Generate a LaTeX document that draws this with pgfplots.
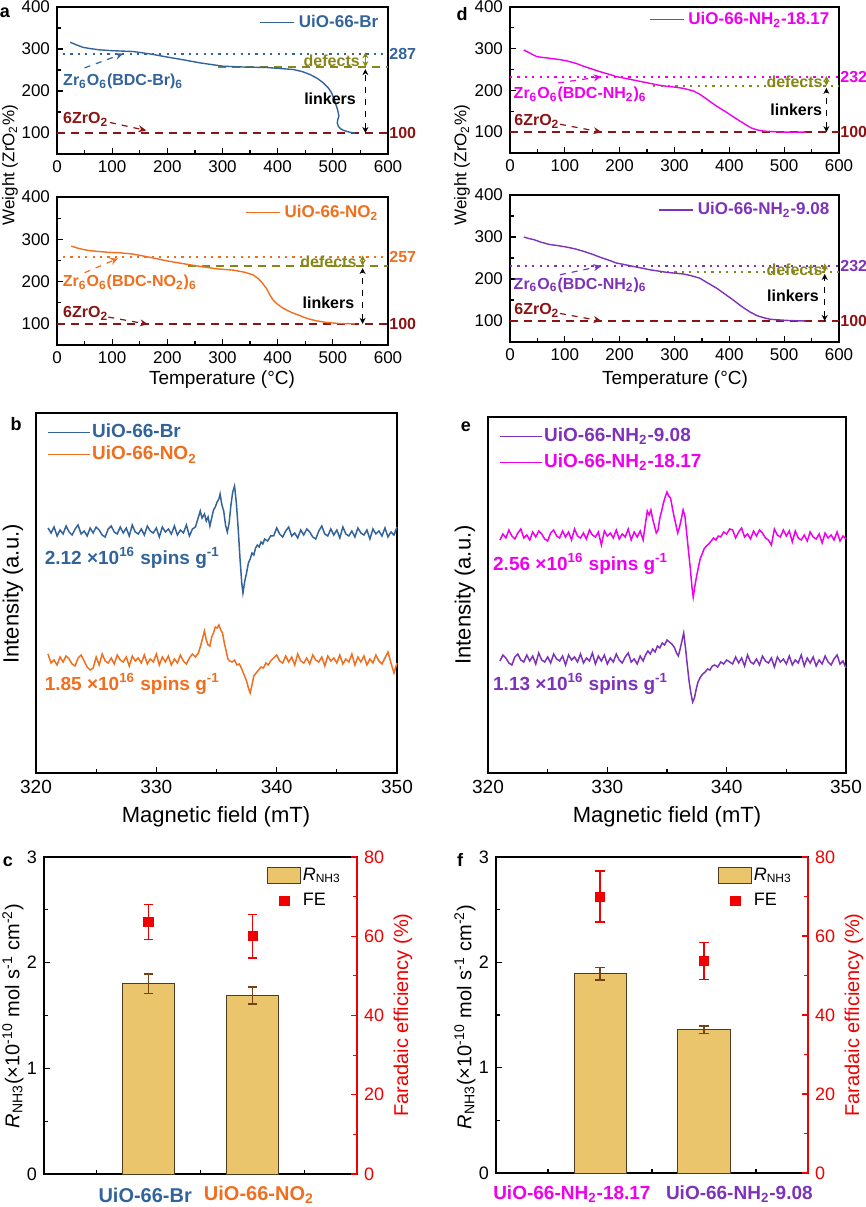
\documentclass[border=0pt]{standalone}
\usepackage{fontspec}
\setmainfont{Liberation Sans}
\usepackage{pgfplots}
\pgfplotsset{compat=1.18}
\usetikzlibrary{arrows.meta}
\definecolor{brblue}{RGB}{50,100,155}
\definecolor{orng}{RGB}{240,110,30}
\definecolor{mag}{RGB}{238,0,238}
\definecolor{purp}{RGB}{125,50,185}
\definecolor{dred}{RGB}{140,20,20}
\definecolor{olv}{RGB}{135,135,25}
\definecolor{barcol}{RGB}{235,197,107}
\definecolor{barline}{RGB}{80,60,30}
\definecolor{errbr}{RGB}{120,65,20}
\definecolor{fered}{RGB}{240,0,0}
\tikzset{
 ann/.style={font=\bfseries\fontsize{8}{9.6}\selectfont, inner sep=0.5pt},
 spin/.style={anchor=west, font=\bfseries\fontsize{9.5}{11}\selectfont, inner sep=0pt},
 xlab/.style={font=\bfseries\fontsize{10}{12}\selectfont, inner sep=0pt, yshift=-10.5pt},
}
\pgfplotsset{
 every axis/.append style={/pgf/number format/assume math mode=true},
 tga/.style={anchor=south west, scale only axis, xmin=0,xmax=600,ymin=50,ymax=400,
  xtick={0,100,...,600}, minor xtick={50,150,...,550}, ytick={100,200,300,400}, minor ytick={150,250,350},
  tick align=inside, xtick pos=bottom, ytick pos=left, major tick length=3pt, minor tick length=1.8pt,
  tick label style={font=\fontsize{8.5}{10}\selectfont}, axis line style={line width=0.7pt},
  every tick/.style={black, line width=0.6pt}, clip=false,
  legend style={draw=none, fill=none, font=\bfseries\fontsize{8.5}{10}\selectfont, anchor=east, inner sep=1pt},
  legend cell align=left, legend image code/.code={\draw[#1] (0pt,0pt) -- (17pt,0pt);}},
 href/.style={line width=0.8pt, forget plot},
 hdot/.style={line width=1pt, dash pattern=on 1.1pt off 2.6pt, forget plot},
 epr/.style={anchor=south west, scale only axis, xmin=320,xmax=350, ymin=0,
  xtick={320,330,340,350}, minor xtick={325,335,345}, ytick=\empty, xtick pos=bottom, tick align=inside,
  tick label style={font=\fontsize{9.5}{11}\selectfont}, axis line style={line width=0.7pt},
  every tick/.style={black, line width=0.6pt}, major tick length=3pt, minor tick length=2pt,
  legend style={draw=none, fill=none, font=\bfseries\fontsize{9.5}{11}\selectfont, at={(0.015,0.985)}, anchor=north west, nodes={inner sep=0.6pt}},
  legend cell align=left, legend image code/.code={\draw[#1, line width=0.6pt] (0pt,0pt) -- (21pt,0pt);}, clip=false},
 barax/.style={anchor=south west, scale only axis, xmin=0, xmax=3, ymin=0, ymax=3,
  ytick={0,1,2,3}, minor ytick={0.5,1.5,2.5}, xtick={1,2}, xticklabels={{},{}}, minor xtick={0.5,1.5,2.5},
  xtick pos=bottom, ytick pos=left, tick align=inside, major x tick style={draw=none},
  tick label style={font=\fontsize{9}{11}\selectfont}, clip=false,
  axis line style={line width=0.7pt}, every tick/.style={black, line width=0.6pt}, major tick length=3pt, minor tick length=2pt},
 feax/.style={anchor=south west, scale only axis, xmin=0, xmax=3, ymin=0, ymax=80,
  axis y line*=right, axis x line=none, ytick={0,20,40,60,80}, minor ytick={10,30,50,70}, tick align=inside,
  y axis line style={fered, line width=0.8pt}, every tick/.style={fered, line width=0.6pt}, major tick length=3pt, minor tick length=2pt,
  yticklabel style={fered, font=\fontsize{9}{11}\selectfont},
  legend style={draw=none, fill=none, at={(0.975,0.985)}, anchor=north east, font=\fontsize{9}{11}\selectfont, row sep=3pt, nodes={inner sep=1pt}},
  legend cell align=left},
}
\begin{document}
\begin{tikzpicture}
\path[use as bounding box] (0pt,0pt) rectangle (433pt,603.5pt);
% ---------------- panel a top
\begin{axis}[tga, at={(28.5pt,526.5pt)}, width=165.5pt, height=73.5pt, legend style={at={(0.99,0.894)}}]
\addplot[href, dred, dash pattern=on 4pt off 3pt] coordinates {(0,100)(600,100)};
\addplot[hdot, brblue] coordinates {(11,287)(600,287)};
\addplot[href, olv, dash pattern=on 4pt off 3pt] coordinates {(292,257)(600,257)};
\addplot[brblue, line width=0.7pt] coordinates {(24,316)(35,310)(47,304)(60,301)(77,298)(100,296)(138,294)(170,288)(199,281)(230,274)(259,267)(280,263)(301,259)(340,257)(380,256)(410,253)(429,251)(445,246)(459,239)(472,230)(483,219)(492,207)(498,195)(502,182)(505,170)(508,158)(510,148)(511,140)(509,132)(508,124)(510,116)(514,110)(520,106)(530,102)(540,100)};
\addlegendentry[text=brblue]{UiO-66-Br}
\node[ann, text=brblue, anchor=west] at (axis cs:600,287) {287};
\node[ann, text=dred, anchor=west] at (axis cs:600,100) {100};
\draw[olv, line width=0.6pt, {Stealth[length=3pt,width=3pt]}-{Stealth[length=3pt,width=3pt]}] (axis cs:559,257) -- (axis cs:559,292);
\draw[black, dashed, line width=0.6pt, {Stealth[length=3pt,width=3pt]}-{Stealth[length=3pt,width=3pt]}] (axis cs:559,100) -- (axis cs:559,252);
\node[ann, text=olv] at (axis cs:498,271) {defects};
\node[ann] at (axis cs:495,182) {linkers};
\node[ann, text=brblue] at (axis cs:120,223) {Zr\textsubscript{6}O\textsubscript{6}(BDC-Br)\textsubscript{6}};
\draw[brblue, dashed, line width=0.6pt, -{Stealth[length=4pt,width=3.5pt]}] (axis cs:50,255) -- (axis cs:120,289);
\node[ann, text=dred] at (axis cs:52,132) {6ZrO\textsubscript{2}};
\draw[dred, dashed, line width=0.6pt, -{Stealth[length=4pt,width=3.5pt]}] (axis cs:96,125) -- (axis cs:162,106);
\end{axis}
% ---------------- panel a bottom
\begin{axis}[tga, at={(28.5pt,431pt)}, width=165.5pt, height=74pt, legend style={at={(0.99,0.894)}}]
\addplot[href, dred, dash pattern=on 4pt off 3pt] coordinates {(0,100)(600,100)};
\addplot[hdot, orng] coordinates {(11,257)(600,257)};
\addplot[href, olv, dash pattern=on 4pt off 3pt] coordinates {(238,237)(600,237)};
\addplot[orng, line width=0.7pt] coordinates {(26,284)(35,280)(47,276)(60,273)(77,271)(95,269)(114,268)(138,265)(170,257)(199,249)(230,242)(259,236)(290,230)(320,227)(340,222)(355,216)(365,207)(372,197)(380,183)(386,168)(392,156)(400,146)(410,137)(425,127)(441,119)(455,112)(471,107)(490,103)(510,101)(540,100)};
\addlegendentry[text=orng]{UiO-66-NO\textsubscript{2}}
\node[ann, text=orng, anchor=west] at (axis cs:600,257) {257};
\node[ann, text=dred, anchor=west] at (axis cs:600,100) {100};
\draw[olv, line width=0.6pt, {Stealth[length=3pt,width=3pt]}-{Stealth[length=3pt,width=3pt]}] (axis cs:554,237) -- (axis cs:554,262);
\draw[black, dashed, line width=0.6pt, {Stealth[length=3pt,width=3pt]}-{Stealth[length=3pt,width=3pt]}] (axis cs:554,100) -- (axis cs:554,232);
\node[ann, text=olv] at (axis cs:492,246) {defects};
\node[ann] at (axis cs:492,150) {linkers};
\node[ann, text=orng] at (axis cs:132,198) {Zr\textsubscript{6}O\textsubscript{6}(BDC-NO\textsubscript{2})\textsubscript{6}};
\draw[orng, dashed, line width=0.6pt, -{Stealth[length=4pt,width=3.5pt]}] (axis cs:50,221) -- (axis cs:111,255);
\node[ann, text=dred] at (axis cs:52,124) {6ZrO\textsubscript{2}};
\draw[dred, dashed, line width=0.6pt, -{Stealth[length=4pt,width=3.5pt]}] (axis cs:93,116) -- (axis cs:165,99);
\end{axis}
% ---------------- panel d top
\begin{axis}[tga, at={(255pt,527pt)}, width=164.5pt, height=73pt, legend style={at={(0.99,0.914)}}]
\addplot[href, dred, dash pattern=on 4pt off 3pt] coordinates {(0,100)(600,100)};
\addplot[hdot, mag] coordinates {(0,232)(600,232)};
\addplot[hdot, olv] coordinates {(261,211)(600,211)};
\addplot[mag, line width=0.7pt] coordinates {(25,297)(37,289)(49,281)(60,279)(73,277)(90,274)(103,271)(120,265)(134,258)(150,251)(164,245)(180,239)(194,233)(210,229)(225,225)(240,221)(255,217)(270,213)(285,210)(300,208)(316,205)(334,199)(346,191)(360,178)(377,162)(392,150)(407,137)(420,126)(431,117)(440,110)(449,106)(460,103)(468,102)(498,100)(540,100)};
\addlegendentry[text=mag]{UiO-66-NH\textsubscript{2}-18.17}
\node[ann, text=mag, anchor=west] at (axis cs:600,232) {232};
\node[ann, text=dred, anchor=west] at (axis cs:600,100) {100};
\draw[olv, line width=0.6pt, {Stealth[length=3pt,width=3pt]}-{Stealth[length=3pt,width=3pt]}] (axis cs:577,211) -- (axis cs:577,235);
\draw[black, dashed, line width=0.6pt, {Stealth[length=3pt,width=3pt]}-{Stealth[length=3pt,width=3pt]}] (axis cs:577,100) -- (axis cs:577,206);
\node[ann, text=olv] at (axis cs:519,220) {defects};
\node[ann] at (axis cs:522,154) {linkers};
\node[ann, text=mag] at (axis cs:128,191) {Zr\textsubscript{6}O\textsubscript{6}(BDC-NH\textsubscript{2})\textsubscript{6}};
\draw[mag, dashed, line width=0.6pt, -{Stealth[length=4pt,width=3.5pt]}] (axis cs:88,218) -- (axis cs:167,233);
\node[ann, text=dred] at (axis cs:49,125) {6ZrO\textsubscript{2}};
\draw[dred, dashed, line width=0.6pt, -{Stealth[length=4pt,width=3.5pt]}] (axis cs:91,119) -- (axis cs:167,100);
\end{axis}
% ---------------- panel d bottom
\begin{axis}[tga, at={(255pt,432.5pt)}, width=164.5pt, height=73.5pt, legend style={at={(0.99,0.897)}}]
\addplot[href, dred, dash pattern=on 4pt off 3pt] coordinates {(0,100)(600,100)};
\addplot[hdot, purp] coordinates {(0,232)(600,232)};
\addplot[hdot, olv] coordinates {(273,216)(600,216)};
\addplot[purp, line width=0.7pt] coordinates {(25,300)(35,296)(43,294)(58,287)(73,282)(90,279)(103,276)(118,272)(134,266)(150,259)(164,252)(180,245)(194,238)(210,234)(225,230)(240,226)(255,222)(270,219)(285,216)(300,214)(316,212)(330,208)(346,202)(360,191)(377,178)(392,164)(407,150)(422,135)(437,122)(450,113)(462,108)(475,104)(486,103)(510,101)(540,100)};
\addlegendentry[text=purp]{UiO-66-NH\textsubscript{2}-9.08}
\node[ann, text=purp, anchor=west] at (axis cs:600,232) {232};
\node[ann, text=dred, anchor=west] at (axis cs:600,100) {100};
\draw[olv, line width=0.6pt, {Stealth[length=3pt,width=3pt]}-{Stealth[length=3pt,width=3pt]}] (axis cs:574,216) -- (axis cs:574,237);
\draw[black, dashed, line width=0.6pt, {Stealth[length=3pt,width=3pt]}-{Stealth[length=3pt,width=3pt]}] (axis cs:574,100) -- (axis cs:574,212);
\node[ann, text=olv] at (axis cs:519,223) {defects};
\node[ann] at (axis cs:516,160) {linkers};
\node[ann, text=purp] at (axis cs:128,186) {Zr\textsubscript{6}O\textsubscript{6}(BDC-NH\textsubscript{2})\textsubscript{6}};
\draw[purp, dashed, line width=0.6pt, -{Stealth[length=4pt,width=3.5pt]}] (axis cs:91,210) -- (axis cs:167,231);
\node[ann, text=dred] at (axis cs:49,126) {6ZrO\textsubscript{2}};
\draw[dred, dashed, line width=0.6pt, -{Stealth[length=4pt,width=3.5pt]}] (axis cs:91,118) -- (axis cs:167,100);
\end{axis}
% TGA labels
\node[rotate=90, font=\fontsize{8.5}{10}\selectfont] at (5pt,521pt) {Weight (ZrO\textsubscript{2}\%)};
\node[rotate=90, font=\fontsize{8.5}{10}\selectfont] at (231pt,521pt) {Weight (ZrO\textsubscript{2}\%)};
\node[font=\fontsize{9.5}{11}\selectfont] at (111pt,413.5pt) {Temperature (°C)};
\node[font=\fontsize{9.5}{11}\selectfont] at (337.5pt,413.5pt) {Temperature (°C)};
% ---------------- panel b
\begin{axis}[epr, at={(18pt,217pt)}, width=180.5pt, height=180pt, ymax=360, legend style={row sep=1.5pt}]
\addplot[brblue, line width=0.75pt] coordinates {
(321.00,245)(321.25,240)(321.5,246)(321.75,237)(322,243)(322.25,239)(322.5,247)(322.75,241)(323,238)(323.25,244)
(323.5,248)(323.75,239)(324,242)(324.25,237)(324.5,245)(324.75,240)(325,246)(325.25,243)(325.5,238)(325.75,236)
(326,244)(326.25,247)(326.5,241)(326.75,239)(327,246)(327.25,240)(327.5,245)(327.75,237)(328,248)(328.25,241)
(328.5,239)(328.75,244)(329,238)(329.25,247)(329.5,242)(329.75,240)(330,245)(330.25,236)(330.5,246)(330.75,241)
(331,244)(331.25,239)(331.5,247)(331.75,238)(332,243)(332.25,240)(332.5,248)(332.75,237)(333,244)(333.25,246)
(333.5,256)(333.65,262)(333.8,255)(334.0,259)(334.15,252)(334.3,256)(334.45,247)(334.6,255)(334.75,263)(334.9,266)
(335.05,271)(335.2,274)(335.3,279)(335.45,268)(335.6,262)(335.75,248)(335.9,241)(336.05,250)(336.2,268)(336.35,281)
(336.5,287)(336.65,270)(336.8,245)(336.95,215)(337.1,190)(337.2,180)(337.35,192)(337.5,200)(337.65,210)(337.8,214)
(337.95,220)(338.1,218)(338.25,225)(338.4,228)(338.55,226)(338.7,231)(338.85,229)(339.0,234)(339.25,232)(339.5,237)
(339.75,237)(340,245)(340.25,239)(340.5,236)(340.75,242)(341,246)(341.25,237)(341.5,240)(341.75,235)(342,243)
(342.25,238)(342.5,244)(342.75,241)(343,236)(343.25,234)(343.5,242)(343.75,247)(344,239)(344.25,237)(344.5,244)
(344.75,238)(345,243)(345.25,235)(345.5,246)(345.75,239)(346,237)(346.25,242)(346.5,236)(346.75,245)(347,240)
(347.25,238)(347.5,243)(347.75,234)(348,244)(348.25,239)(348.5,242)(348.75,237)(349,245)(349.25,236)(349.5,241)
(349.75,238)(350,246)};
\addlegendentry[text=brblue]{UiO-66-Br}
\addplot[orng, line width=0.75pt] coordinates {
(321,119)(321.25,110)(321.5,113)(321.75,108)(322,116)(322.25,111)(322.5,117)(322.75,114)(323,109)(323.25,107)
(323.5,115)(323.75,118)(324,112)(324.25,106)(324.5,103)(324.75,105)(325,116)(325.25,108)(325.5,119)(325.75,112)
(326,110)(326.25,115)(326.5,109)(326.75,118)(327,113)(327.25,111)(327.5,116)(327.75,107)(328,117)(328.25,112)
(328.5,115)(328.75,110)(329,118)(329.25,109)(329.5,114)(329.75,111)(330,119)(330.25,108)(330.5,116)(330.75,111)
(331,117)(331.25,108)(331.5,114)(331.75,110)(332,118)(332.25,112)(332.5,109)(332.75,115)(333,119)(333.25,116)
(333.5,120)(333.7,128)(333.85,135)(334.0,142)(334.15,133)(334.3,128)(334.45,127)(334.6,136)(334.75,140)(334.9,146)
(335.05,145)(335.2,148)(335.35,143)(335.5,140)(335.65,130)(335.8,122)(335.95,114)(336.1,112)(336.3,111)(336.5,113)
(336.7,108)(336.9,109)(337.1,104)(337.3,98)(337.5,92)(337.65,85)(337.8,80)(337.95,88)(338.1,97)(338.3,100)
(338.5,103)(338.7,106)(338.9,105)(339.1,110)(339.3,108)(339.5,112)
(339.75,115)(340,118)(340.25,112)(340.5,110)(340.75,117)(341,111)(341.25,116)(341.5,108)(341.75,119)(342,112)
(342.25,110)(342.5,115)(342.75,109)(343,118)(343.25,113)(343.5,111)(343.75,116)(344,107)(344.25,117)(344.5,112)
(344.75,115)(345,110)(345.25,118)(345.5,109)(345.75,114)(346,111)(346.25,119)(346.5,108)(346.75,116)(347,111)
(347.25,117)(347.5,108)(347.75,114)(348,110)(348.25,118)(348.5,112)(348.75,109)(349,115)(349.25,121)(349.5,110)
(349.75,100)(350,110)};
\addlegendentry[text=orng]{UiO-66-NO\textsubscript{2}}
\node[spin, text=brblue] at (axis cs:320.7,215) {2.12 ×10\textsuperscript{16} spins g\textsuperscript{-1}};
\node[spin, text=orng] at (axis cs:320.7,89) {1.85 ×10\textsuperscript{16} spins g\textsuperscript{-1}};
\end{axis}
% ---------------- panel e
\begin{axis}[epr, at={(244pt,217pt)}, width=179pt, height=178pt, ymax=356, legend style={row sep=3.5pt}]
\addplot[purp, line width=0.75pt] coordinates {
(321,112)(321.25,118)(321.5,115)(321.75,110)(322,108)(322.25,116)(322.5,119)(322.75,113)(323,111)(323.25,118)
(323.5,112)(323.75,117)(324,109)(324.25,120)(324.5,113)(324.75,111)(325,116)(325.25,110)(325.5,119)(325.75,114)
(326,112)(326.25,117)(326.5,108)(326.75,118)(327,113)(327.25,116)(327.5,111)(327.75,119)(328,110)(328.25,115)
(328.5,112)(328.75,120)(329,109)(329.25,117)(329.5,112)(329.75,118)(330,109)(330.25,115)(330.5,111)(330.75,119)
(331,113)(331.25,110)(331.5,116)(331.75,120)(332,111)(332.25,114)(332.5,109)(332.75,117)(333,112)
(333.2,118)(333.4,122)(333.6,119)(333.8,124)(334.0,121)(334.2,127)(334.4,125)(334.6,130)(334.8,128)(335.0,133)
(335.2,131)(335.4,129)(335.6,126)(335.8,120)(335.95,117)(336.1,124)(336.25,132)(336.4,140)(336.55,125)(336.7,108)
(336.85,92)(337.0,80)(337.15,71)(337.3,75)(337.45,84)(337.6,91)(337.8,96)(338.0,99)(338.2,101)(338.4,104)
(338.6,103)(338.8,107)(339.0,108)(339.25,106)(339.5,111)(339.75,109)(340,113)
(340.25,111)(340.5,109)(340.75,116)(341,110)(341.25,115)(341.5,107)(341.75,118)(342,111)(342.25,109)(342.5,114)
(342.75,108)(343,117)(343.25,112)(343.5,110)(343.75,115)(344,106)(344.25,116)(344.5,111)(344.75,114)(345,109)
(345.25,117)(345.5,108)(345.75,113)(346,110)(346.25,118)(346.5,107)(346.75,115)(347,110)(347.25,116)(347.5,107)
(347.75,113)(348,109)(348.25,117)(348.5,111)(348.75,108)(349,114)(349.25,118)(349.5,109)(349.75,112)(350,105)};
\addlegendentry[text=purp]{UiO-66-NH\textsubscript{2}-9.08}
\addplot[mag, line width=0.75pt] coordinates {
(321,233)(321.25,239)(321.5,235)(321.75,243)(322,237)(322.25,234)(322.5,240)(322.75,244)(323,235)(323.25,238)
(323.5,233)(323.75,241)(324,236)(324.25,242)(324.5,239)(324.75,234)(325,232)(325.25,240)(325.5,243)(325.75,237)
(326,235)(326.25,242)(326.5,236)(326.75,241)(327,233)(327.25,244)(327.5,237)(327.75,235)(328,240)(328.25,234)
(328.5,243)(328.75,238)(329,236)(329.25,241)(329.5,228)(329.75,242)(330,237)(330.25,240)(330.5,235)(330.75,243)
(331,234)(331.25,239)(331.5,236)(331.75,244)(332,233)(332.25,241)(332.5,236)(332.75,242)(333,233)
(333.2,250)(333.35,262)(333.5,258)(333.65,263)(333.8,254)(333.95,247)(334.1,240)(334.25,243)(334.4,255)(334.55,262)
(334.7,270)(334.85,276)(335.0,281)(335.15,277)(335.3,275)(335.45,265)(335.6,256)(335.75,248)(335.9,240)(336.05,246)
(336.2,254)(336.35,263)(336.5,257)(336.65,240)(336.8,222)(336.95,205)(337.1,185)(337.2,176)(337.35,188)(337.5,198)
(337.65,207)(337.8,215)(337.95,219)(338.1,224)(338.3,227)(338.5,229)(338.7,232)(338.9,235)(339.1,233)(339.3,237)
(339.5,236)(339.75,241)(340,239)(340.25,244)(340.5,243)
(340.75,235)(341,241)(341.25,245)(341.5,236)(341.75,239)(342,234)(342.25,242)(342.5,237)(342.75,243)(343,240)
(343.25,235)(343.5,233)(343.75,228)(344,244)(344.25,238)(344.5,236)(344.75,243)(345,237)(345.25,242)(345.5,231)
(345.75,242)(346,235)(346.25,233)(346.5,238)(346.75,232)(347,241)(347.25,236)(347.5,234)(347.75,239)(348,230)
(348.25,240)(348.5,235)(348.75,238)(349,233)(349.25,241)(349.5,232)(349.75,237)(350,234)};
\addlegendentry[text=mag]{UiO-66-NH\textsubscript{2}-18.17}
\node[spin, text=mag] at (axis cs:320.4,209) {2.56 ×10\textsuperscript{16} spins g\textsuperscript{-1}};
\node[spin, text=purp] at (axis cs:320.4,89) {1.13 ×10\textsuperscript{16} spins g\textsuperscript{-1}};
\end{axis}
\node[rotate=90, font=\fontsize{11}{13}\selectfont] at (6.5pt,306.5pt) {Intensity (a.u.)};
\node[rotate=90, font=\fontsize{11}{13}\selectfont] at (232.5pt,306pt) {Intensity (a.u.)};
\node[font=\fontsize{11}{13}\selectfont] at (108pt,195pt) {Magnetic field (mT)};
\node[font=\fontsize{11}{13}\selectfont] at (333.5pt,195pt) {Magnetic field (mT)};
% ---------------- panel c
\begin{axis}[barax, at={(22pt,16.5pt)}, width=156.5pt, height=158.5pt]
\addplot[ybar, bar width=26pt, bar shift=0pt, fill=barcol, draw=barline, line width=0.5pt,
  error bars/.cd, y dir=both, y explicit, error bar style={color=errbr, line width=0.8pt},
  error mark options={rotate=90, color=errbr, mark size=2.3pt, line width=0.8pt}]
  coordinates {(1,1.80) +- (0,0.09) (2,1.69) +- (0,0.08)};
\node[xlab, text=brblue] at (axis cs:0.97,0) {UiO-66-Br};
\node[xlab, text=orng] at (axis cs:2.06,0) {UiO-66-NO\textsubscript{2}};
\end{axis}
\begin{axis}[feax, at={(22pt,16.5pt)}, width=156.5pt, height=158.5pt]
\addlegendimage{legend image code/.code={\draw[fill=barcol, draw=barline, line width=0.5pt] (0pt,-4pt) rectangle (16.5pt,4pt);}}
\addlegendentry{\textit{R}\textsubscript{NH3}}
\addplot[only marks, mark=square*, mark size=2.3pt, color=fered,
  error bars/.cd, y dir=both, y explicit, error bar style={color=fered, line width=0.8pt},
  error mark options={rotate=90, color=fered, mark size=2.3pt, line width=0.8pt}]
  coordinates {(1,63.6) +- (0,4.4) (2,60.0) +- (0,5.5)};
\addlegendentry{FE}
\end{axis}
% ---------------- panel f
\begin{axis}[barax, at={(248pt,17pt)}, width=156pt, height=158pt]
\addplot[ybar, bar width=26pt, bar shift=0pt, fill=barcol, draw=barline, line width=0.5pt,
  error bars/.cd, y dir=both, y explicit, error bar style={color=errbr, line width=0.8pt},
  error mark options={rotate=90, color=errbr, mark size=2.3pt, line width=0.8pt}]
  coordinates {(1,1.89) +- (0,0.06) (2,1.36) +- (0,0.035)};
\node[xlab, text=mag, font=\bfseries\fontsize{9.5}{11}\selectfont] at (axis cs:0.73,0) {UiO-66-NH\textsubscript{2}-18.17};
\node[xlab, text=purp, font=\bfseries\fontsize{9.5}{11}\selectfont] at (axis cs:2.34,0) {UiO-66-NH\textsubscript{2}-9.08};
\end{axis}
\begin{axis}[feax, at={(248pt,17pt)}, width=156pt, height=158pt]
\addlegendimage{legend image code/.code={\draw[fill=barcol, draw=barline, line width=0.5pt] (0pt,-4pt) rectangle (16.5pt,4pt);}}
\addlegendentry{\textit{R}\textsubscript{NH3}}
\addplot[only marks, mark=square*, mark size=2.3pt, color=fered,
  error bars/.cd, y dir=both, y explicit, error bar style={color=fered, line width=0.8pt},
  error mark options={rotate=90, color=fered, mark size=2.3pt, line width=0.8pt}]
  coordinates {(1,70.0) +- (0,6.4) (2,53.7) +- (0,4.7)};
\addlegendentry{FE}
\end{axis}
\node[rotate=90, font=\fontsize{10}{12}\selectfont] at (6.5pt,95.5pt) {\textit{R}\textsubscript{NH3}(×10\textsuperscript{-10} mol s\textsuperscript{-1} cm\textsuperscript{-2})};
\node[rotate=90, font=\fontsize{10}{12}\selectfont] at (232.5pt,95pt) {\textit{R}\textsubscript{NH3}(×10\textsuperscript{-10} mol s\textsuperscript{-1} cm\textsuperscript{-2})};
\node[rotate=90, font=\fontsize{10}{12}\selectfont, text=fered] at (201.5pt,96pt) {Faradaic efficiency (\%)};
\node[rotate=90, font=\fontsize{10}{12}\selectfont, text=fered] at (427pt,96pt) {Faradaic efficiency (\%)};
% panel letters
\node[font=\bfseries\fontsize{9}{10}\selectfont] at (2.5pt,597pt) {a};
\node[font=\bfseries\fontsize{9}{10}\selectfont] at (231pt,596.5pt) {d};
\node[font=\bfseries\fontsize{9}{10}\selectfont] at (8pt,391.5pt) {b};
\node[font=\bfseries\fontsize{9}{10}\selectfont] at (233pt,390pt) {e};
\node[font=\bfseries\fontsize{9}{10}\selectfont] at (4pt,172.5pt) {c};
\node[font=\bfseries\fontsize{9}{10}\selectfont] at (230pt,173.5pt) {f};
\end{tikzpicture}
\end{document}
